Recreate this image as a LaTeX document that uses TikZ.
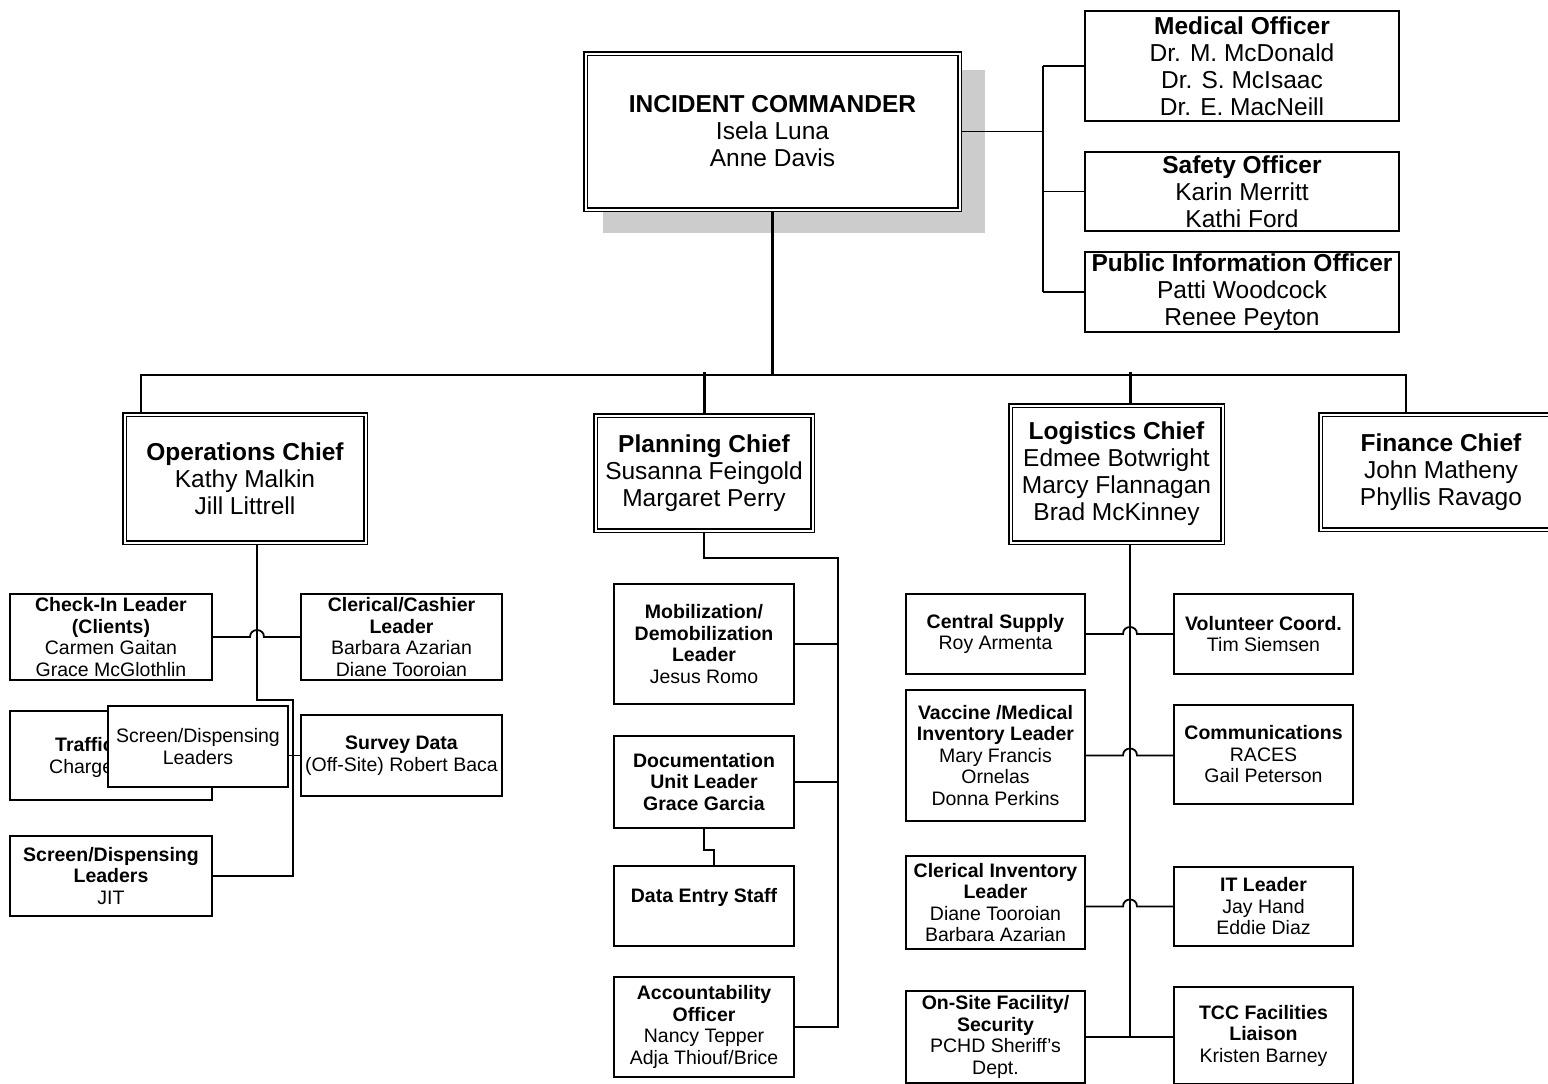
\documentclass[tikz,border=0pt]{standalone}
\usepackage{fontspec}
\setmainfont{Liberation Sans}
\usetikzlibrary{calc}
\pgfdeclarelayer{background}
\pgfsetlayers{background,main}
\begin{document}
\begin{tikzpicture}[x=1pt,y=-1pt,
  box/.style={draw, line width=1.8pt, fill=white, inner sep=0pt, align=center, font=\fontsize{19.5}{21.5}\selectfont},
  bigbox/.style={draw, line width=1.6pt, double, double distance=2pt, fill=white, inner sep=0pt, align=center, font=\fontsize{24.5}{27}\selectfont},
  offbox/.style={draw, line width=1.8pt, fill=white, inner sep=0pt, align=center, font=\fontsize{24.5}{27}\selectfont},
  conn/.style={line width=1.8pt},
  trunk/.style={line width=3pt},
  sz/.style 2 args={minimum width=#1pt, minimum height=#2pt}
]
\useasboundingbox (0,0) rectangle (1548,1084);

% ---- top
\node[bigbox, sz={374}{156}] (ic) at (772.5,131.5) {\textbf{INCIDENT COMMANDER}\\Isela Luna\\Anne Davis};
\node[offbox, sz={314}{110}] (med) at (1242,66) {\textbf{Medical Officer}\\Dr. M. McDonald\\Dr. S. McIsaac\\Dr. E. MacNeill};
\node[offbox, sz={314}{79}] (saf) at (1242,191.5) {\textbf{Safety Officer}\\Karin Merritt\\Kathi Ford};
\node[offbox, sz={314}{80}] (pio) at (1242,292) {\textbf{Public Information Officer}\\Patti Woodcock\\Renee Peyton};

% ---- chiefs
\node[bigbox, sz={241}{128}] (ops) at (245,478.5) {\textbf{Operations Chief}\\Kathy Malkin\\Jill Littrell};
\node[bigbox, sz={217}{115}] (plan) at (704,473) {\textbf{Planning Chief}\\Susanna Feingold\\Margaret Perry};
\node[bigbox, sz={212}{137}] (log) at (1116.5,474) {\textbf{Logistics Chief}\\Edmee Botwright\\Marcy Flannagan\\Brad McKinney};
\node[bigbox, sz={241}{115}] (fin) at (1441,472) {\textbf{Finance Chief}\\John Matheny\\Phyllis Ravago};

% ---- operations
\node[box, sz={202}{86}] (checkin) at (111,637) {\textbf{Check-In Leader}\\\textbf{(Clients)}\\Carmen Gaitan\\Grace McGlothlin};
\node[box, sz={201}{86}] (cler) at (401.5,637) {\textbf{Clerical/Cashier}\\\textbf{Leader}\\Barbara Azarian\\Diane Tooroian};
\node[box, sz={202}{89}] (traffic) at (111,755.5) {};
\node[anchor=base west, inner sep=0pt, font=\fontsize{19.5}{21.5}\selectfont\bfseries] (traffica) at (55,751) {Traffic};
\node[anchor=base west, inner sep=0pt, font=\fontsize{19.5}{21.5}\selectfont] (trafficb) at (49,773) {Charge};
\node[box, sz={180}{81}] (ovl) at (198,746.5) {Screen/Dispensing\\Leaders};
\node[box, sz={201}{81}] (survey) at (401.5,755.5) {\textbf{Survey Data}\\(Off-Site) Robert Baca};
\node[box, sz={202}{80}] (jit) at (111,876) {\textbf{Screen/Dispensing}\\\textbf{Leaders}\\JIT};

% ---- planning
\node[box, sz={180}{120}] (mob) at (704,644) {\textbf{Mobilization/}\\\textbf{Demobilization}\\\textbf{Leader}\\Jesus Romo};
\node[box, sz={180}{92}] (doc) at (704,782) {\textbf{Documentation}\\\textbf{Unit Leader}\\\textbf{Grace Garcia}};
\node[box, sz={180}{80}] (dat) at (704,906) {\textbf{Data Entry Staff}\\\mbox{}};
\node[box, sz={180}{100}] (acc) at (704,1027) {\textbf{Accountability}\\\textbf{Officer}\\Nancy Tepper\\Adja Thiouf/Brice};

% ---- logistics
\node[box, sz={179}{80}] (cs) at (995.5,634) {\textbf{Central Supply}\\Roy Armenta};
\node[box, sz={179}{80}] (vol) at (1263.5,634) {\textbf{Volunteer Coord.}\\Tim Siemsen};
\node[box, sz={179}{131}] (vac) at (995.5,755.5) {\textbf{Vaccine /Medical}\\\textbf{Inventory Leader}\\Mary Francis\\Ornelas\\Donna Perkins};
\node[box, sz={179}{99}] (com) at (1263.5,754.5) {\textbf{Communications}\\RACES\\Gail Peterson};
\node[box, sz={179}{93}] (cli) at (995.5,902.5) {\textbf{Clerical Inventory}\\\textbf{Leader}\\Diane Tooroian\\Barbara Azarian};
\node[box, sz={179}{79}] (it) at (1263.5,906.5) {\textbf{IT Leader}\\Jay Hand\\Eddie Diaz};
\node[box, sz={179}{92}] (ons) at (995.5,1037) {\textbf{On-Site Facility/}\\\textbf{Security}\\PCHD Sheriff’s\\Dept.};
\node[box, sz={179}{97}] (tcc) at (1263.5,1035.5) {\textbf{TCC Facilities}\\\textbf{Liaison}\\Kristen Barney};

% ---- coordinates
\coordinate (bl) at (141,375);
\coordinate (br) at (1406,375);
\coordinate (bt) at (0,372);
\coordinate (rx) at (1043,0);
\coordinate (oa) at (257,700);
\coordinate (ob) at (293,700);
\coordinate (px) at (838,558);
\coordinate (lx) at (1130,0);

\begin{pgfonlayer}{background}
\fill[gray!40] (603,70) rectangle (985,233);
% top connectors
\draw[trunk] (ic.south) -- (ic.south |- bl);
\draw[conn] (ops.north -| bl) -- (bl) -- (br) -- (fin.north -| br);
\draw[trunk] (plan.north) -- (plan.north |- bt);
\draw[trunk] (log.north -| lx) -- (lx |- bt);
\draw[conn] (ic.east) -- (ic.east -| rx);
\draw[conn] (rx |- med.west) -- (rx |- pio.west);
\draw[conn] (rx |- med.west) -- (med.west);
\draw[conn] (rx |- saf.west) -- (saf.west);
\draw[conn] (rx |- pio.west) -- (pio.west);
% operations
\draw[conn] (ops.south -| oa) -- (oa) -- (ob) |- (jit.east);
\draw[conn] (checkin.east) -- ($(oa |- checkin.east)+(-7,0)$)
  .. controls +(0,-9.3) and +(0,-9.3) .. ($(oa |- checkin.east)+(7,0)$) -- (cler.west);
\draw[conn] (ovl.east |- survey.west) -- (survey.west);
% planning
\draw[conn] (plan.south) |- (px) -- (px |- acc.east) -- (acc.east);
\draw[conn] (mob.east) -- (px |- mob.east);
\draw[conn] (doc.east) -- (px |- doc.east);
\draw[conn] (doc.south) -- ++(0,21) -| ($(dat.north)+(10,0)$);
% logistics
\draw[conn] (log.south -| lx) -- (lx |- ons.east);
\draw[conn] (cs.east) -- ($(lx |- cs.east)+(-7,0)$)
  .. controls +(0,-9.3) and +(0,-9.3) .. ($(lx |- cs.east)+(7,0)$) -- (vol.west);
\draw[conn] (vac.east) -- ($(lx |- vac.east)+(-7,0)$)
  .. controls +(0,-9.3) and +(0,-9.3) .. ($(lx |- vac.east)+(7,0)$) -- (com.west |- vac.east);
\draw[conn] (cli.east |- it.west) -- ($(lx |- it.west)+(-7,0)$)
  .. controls +(0,-9.3) and +(0,-9.3) .. ($(lx |- it.west)+(7,0)$) -- (it.west);
\draw[conn] (ons.east) -- (tcc.west |- ons.east);
\end{pgfonlayer}
\end{tikzpicture}
\end{document}
